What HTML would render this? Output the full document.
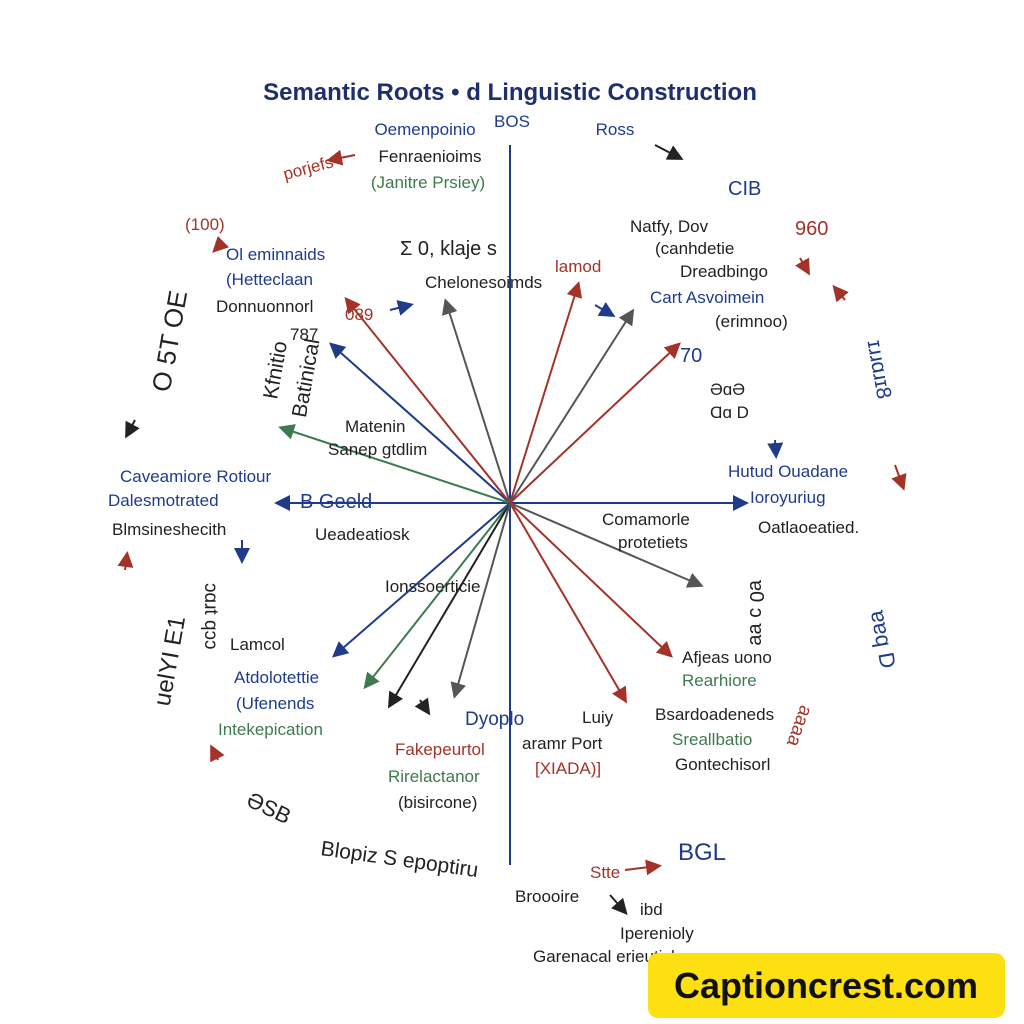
<!DOCTYPE html>
<html><head><meta charset="utf-8"><style>
html,body{margin:0;padding:0;background:#fff;}
svg{display:block;font-family:"Liberation Sans",sans-serif;}
</style></head><body>
<svg width="1024" height="1024" viewBox="0 0 1024 1024" xmlns="http://www.w3.org/2000/svg">
<defs>
<marker id="ab" markerWidth="8" markerHeight="8" refX="6" refY="4" orient="auto"><path d="M0,0 L8,4 L0,8 z" fill="#1f3b8a"/></marker>
<marker id="ar" markerWidth="8" markerHeight="8" refX="6" refY="4" orient="auto"><path d="M0,0 L8,4 L0,8 z" fill="#a33328"/></marker>
<marker id="ag" markerWidth="8" markerHeight="8" refX="6" refY="4" orient="auto"><path d="M0,0 L8,4 L0,8 z" fill="#555"/></marker>
<marker id="ak" markerWidth="8" markerHeight="8" refX="6" refY="4" orient="auto"><path d="M0,0 L8,4 L0,8 z" fill="#222"/></marker>
<marker id="agr" markerWidth="8" markerHeight="8" refX="6" refY="4" orient="auto"><path d="M0,0 L8,4 L0,8 z" fill="#3f7a4f"/></marker>
</defs>
<rect width="1024" height="1024" fill="#fff"/>
<text x="510" y="100" font-size="24" font-weight="bold" fill="#1f2f6e" text-anchor="middle">Semantic Roots • d Linguistic Construction</text>
<line x1="510" y1="145" x2="510" y2="865" stroke="#1f3b8a" stroke-width="2"/>
<line x1="510" y1="503" x2="278" y2="503" stroke="#1f3b8a" stroke-width="2" marker-end="url(#ab)"/>
<line x1="510" y1="503" x2="745" y2="503" stroke="#1f3b8a" stroke-width="2" marker-end="url(#ab)"/>
<g stroke-width="2">
<line x1="510" y1="503" x2="332" y2="345" stroke="#1f3b8a" marker-end="url(#ab)"/>
<line x1="510" y1="503" x2="347" y2="300" stroke="#a33328" marker-end="url(#ar)"/>
<line x1="510" y1="503" x2="282" y2="428" stroke="#3f7a4f" marker-end="url(#agr)"/>
<line x1="510" y1="503" x2="446" y2="302" stroke="#555" marker-end="url(#ag)"/>
<line x1="510" y1="503" x2="578" y2="285" stroke="#a33328" marker-end="url(#ar)"/>
<line x1="510" y1="503" x2="632" y2="312" stroke="#555" marker-end="url(#ag)"/>
<line x1="510" y1="503" x2="678" y2="345" stroke="#a33328" marker-end="url(#ar)"/>
<line x1="510" y1="503" x2="700" y2="585" stroke="#555" marker-end="url(#ag)"/>
<line x1="510" y1="503" x2="670" y2="655" stroke="#a33328" marker-end="url(#ar)"/>
<line x1="510" y1="503" x2="625" y2="700" stroke="#a33328" marker-end="url(#ar)"/>
<line x1="510" y1="503" x2="335" y2="655" stroke="#1f3b8a" marker-end="url(#ab)"/>
<line x1="510" y1="503" x2="366" y2="686" stroke="#3f7a4f" marker-end="url(#agr)"/>
<line x1="510" y1="503" x2="390" y2="705" stroke="#222" marker-end="url(#ak)"/>
<line x1="510" y1="503" x2="455" y2="695" stroke="#555" marker-end="url(#ag)"/>
</g>
<g font-size="17">
<text x="425" y="135" fill="#1f3b8a" text-anchor="middle">Oemenpoinio</text>
<text x="430" y="162" fill="#222" text-anchor="middle">Fenraenioims</text>
<text x="428" y="188" fill="#3f7a4f" text-anchor="middle">(Janitre Prsiey)</text>
<text x="512" y="127" fill="#1f3b8a" text-anchor="middle">BOS</text>
<text x="615" y="135" fill="#1f3b8a" text-anchor="middle">Ross</text>
<text x="285" y="180" fill="#a33328" transform="rotate(-15 285 180)">porjefs</text>
<text x="185" y="230" fill="#a33328">(100)</text>
<text x="226" y="260" fill="#1f3b8a">Ol eminnaids</text>
<text x="226" y="285" fill="#1f3b8a">(Hetteclaan</text>
<text x="216" y="312" fill="#222">Donnuonnorl</text>
<text x="290" y="340" fill="#222">787</text>
<text x="400" y="255" fill="#222" font-size="20">Σ 0, klaje s</text>
<text x="425" y="288" fill="#222">Chelonesoimds</text>
<text x="555" y="272" fill="#a33328">lamod</text>
<text x="345" y="320" fill="#a33328">089</text>
<text x="630" y="232" fill="#222">Natfy,  Dov</text>
<text x="655" y="254" fill="#222">(canhdetie</text>
<text x="680" y="277" fill="#222">Dreadbingo</text>
<text x="650" y="303" fill="#1f3b8a">Cart Asvoimein</text>
<text x="715" y="327" fill="#222">(erimnoo)</text>
<text x="728" y="195" fill="#1f3b8a" font-size="20">CIB</text>
<text x="795" y="235" fill="#a33328" font-size="20">960</text>
<text x="680" y="362" fill="#1f3b8a" font-size="20">70</text>
<text x="710" y="395" fill="#222">ƏɑƏ</text>
<text x="710" y="418" fill="#222">Ɑɑ D</text>
<text x="345" y="432" fill="#222">Matenin</text>
<text x="328" y="455" fill="#222">Sanep gtdlim</text>
<text x="120" y="482" fill="#1f3b8a">Caveamiore Rotiour</text>
<text x="108" y="506" fill="#1f3b8a">Dalesmotrated</text>
<text x="300" y="508" fill="#1f3b8a" font-size="20">B  Geeld</text>
<text x="112" y="535" fill="#222">Blmsineshecith</text>
<text x="315" y="540" fill="#222">Ueadeatiosk</text>
<text x="728" y="477" fill="#1f3b8a">Hutud Ouadane</text>
<text x="750" y="503" fill="#1f3b8a">Ioroyuriug</text>
<text x="758" y="533" fill="#222">Oatlaoeatied.</text>
<text x="602" y="525" fill="#222">Comamorle</text>
<text x="618" y="548" fill="#222">protetiets</text>
<text x="385" y="592" fill="#222">Ionssoerticie</text>
<text x="230" y="650" fill="#222">Lamcol</text>
<text x="234" y="683" fill="#1f3b8a">Atdolotettie</text>
<text x="236" y="709" fill="#1f3b8a">(Ufenends</text>
<text x="218" y="735" fill="#3f7a4f">Intekepication</text>
<text x="465" y="725" fill="#1f3b8a" font-size="19">Dyoplo</text>
<text x="582" y="723" fill="#222">Luiy</text>
<text x="522" y="749" fill="#222">aramr Port</text>
<text x="535" y="774" fill="#a33328">[XIADA)]</text>
<text x="395" y="755" fill="#a33328">Fakepeurtol</text>
<text x="388" y="782" fill="#3f7a4f">Rirelactanor</text>
<text x="398" y="808" fill="#222">(bisircone)</text>
<text x="682" y="663" fill="#222">Afjeas uono</text>
<text x="682" y="686" fill="#3f7a4f">Rearhiore</text>
<text x="655" y="720" fill="#222">Bsardoadeneds</text>
<text x="672" y="745" fill="#3f7a4f">Sreallbatio</text>
<text x="675" y="770" fill="#222">Gontechisorl</text>
<text x="590" y="878" fill="#a33328">Stte</text>
<text x="678" y="860" fill="#1f3b8a" font-size="24">BGL</text>
<text x="515" y="902" fill="#222">Broooire</text>
<text x="640" y="915" fill="#222">ibd</text>
<text x="620" y="939" fill="#222">Iperenioly</text>
<text x="533" y="962" fill="#222">Garenacal erieutichre</text>
<text x="320" y="855" fill="#222" font-size="21" transform="rotate(8 320 855)">Blopiz S epoptiru</text>
<text x="245" y="805" fill="#222" font-size="22" transform="rotate(25 245 805)">ƏSB</text>
<g transform="translate(-15 40)"><text x="140" y="340" fill="#222" font-size="26" transform="rotate(-80 170 320)">O  5T  OE</text></g>
<text x="240" y="440" fill="#222" font-size="21" transform="rotate(-80 260 390)">Batinical</text>
<text x="235" y="410" fill="#222" font-size="21" transform="rotate(-80 250 380)">Kfnitio</text>
<g transform="translate(-50 0)"><text x="180" y="740" fill="#222" font-size="24" transform="rotate(-80 180 700)">uelYI  E1</text></g>
<text x="218" y="610" fill="#222" font-size="19" transform="rotate(90 225 590)">ɔɑɹt  qɔɔ</text>
<g transform="translate(-50 -20)"><text x="860" y="330" fill="#1f3b8a" font-size="21" transform="rotate(80 870 380)">ɪɹɹɑɹɪ8</text></g>
<g transform="translate(-45 -10)"><text x="850" y="600" fill="#1f3b8a" font-size="22" transform="rotate(80 870 650)">ɐɐq  D</text></g>
<text x="730" y="560" fill="#222" font-size="20" transform="rotate(90 730 580)">ɐ0 ɔ  ɐɐ</text>
<text x="805" y="720" fill="#a33328" font-size="19" transform="rotate(-70 820 740)">ɐɐɐɐ</text>
</g>
<g stroke-width="2" fill="none">
<path d="M355 155 L330 160" stroke="#a33328" marker-end="url(#ar)"/>
<path d="M655 145 L680 158" stroke="#222" marker-end="url(#ak)"/>
<path d="M220 245 L215 250" stroke="#a33328" marker-end="url(#ar)"/>
<path d="M390 310 L410 305" stroke="#1f3b8a" marker-end="url(#ab)"/>
<path d="M595 305 L612 315" stroke="#1f3b8a" marker-end="url(#ab)"/>
<path d="M845 300 L835 288" stroke="#a33328" marker-end="url(#ar)"/>
<path d="M800 258 L808 272" stroke="#a33328" marker-end="url(#ar)"/>
<path d="M135 420 L127 435" stroke="#222" marker-end="url(#ak)"/>
<path d="M775 440 L776 455" stroke="#1f3b8a" marker-end="url(#ab)"/>
<path d="M895 465 L903 487" stroke="#a33328" marker-end="url(#ar)"/>
<path d="M242 540 L242 560" stroke="#1f3b8a" marker-end="url(#ab)"/>
<path d="M125 570 L127 555" stroke="#a33328" marker-end="url(#ar)"/>
<path d="M218 760 L212 748" stroke="#a33328" marker-end="url(#ar)"/>
<path d="M625 870 L658 866" stroke="#a33328" marker-end="url(#ar)"/>
<path d="M610 895 L625 912" stroke="#222" marker-end="url(#ak)"/>
<path d="M420 700 L428 712" stroke="#222" marker-end="url(#ak)"/>
</g>
<rect x="648" y="953" width="357" height="65" rx="10" fill="#fde012"/>
<text x="826" y="998" font-size="36" font-weight="bold" fill="#111" text-anchor="middle">Captioncrest.com</text>
</svg>
</body></html>
